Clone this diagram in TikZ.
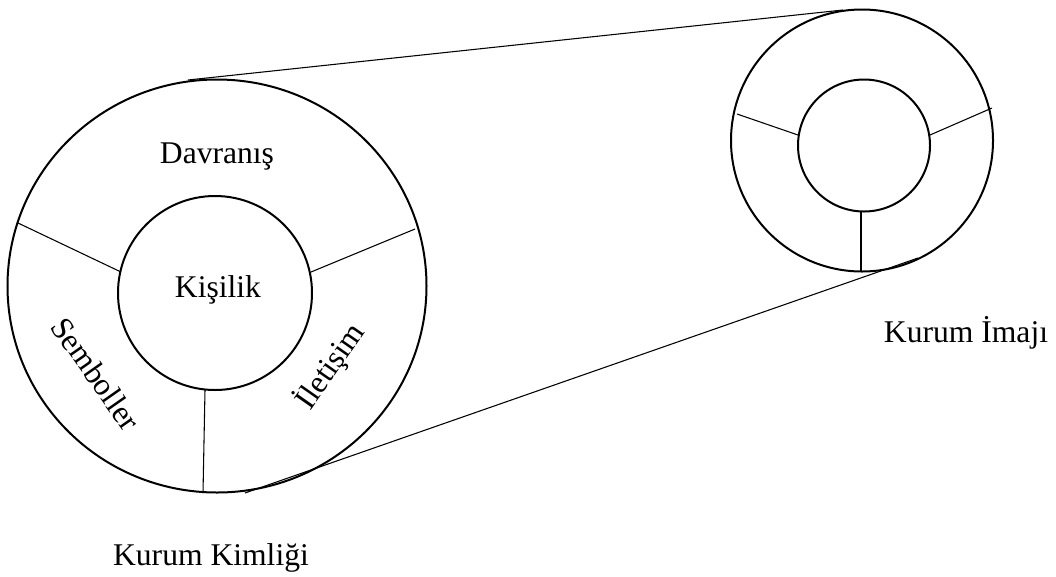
\documentclass[tikz,border=0pt]{standalone}
\usepackage{fontspec}
\setmainfont{Liberation Serif}
\begin{document}
\begin{tikzpicture}[x=0.75pt,y=-0.75pt,
  ring/.style={draw=black,line width=1.5pt},
  divider/.style={draw=black,line width=0.8pt},
  tangent/.style={draw=black,line width=0.8pt},
  lbl/.style={font=\fontsize{23.7}{28}\selectfont,inner sep=0pt}]
\useasboundingbox (0,0) rectangle (1056,576);
% left (Kurum Kimliği)
\coordinate (lc) at (217,286);
\coordinate (ic) at (215,293);
\draw[ring] (lc) ellipse [x radius=209.5, y radius=206.5];
\draw[ring] (ic) circle [radius=97];
\coordinate (l1o) at (18,223);  \coordinate (l1i) at (121,272);
\coordinate (l2o) at (415,229); \coordinate (l2i) at (311,272);
\coordinate (l3o) at (203,493); \coordinate (l3i) at (205,390);
\draw[divider] (l1o) -- (l1i);
\draw[divider] (l2o) -- (l2i);
\draw[divider] (l3o) -- (l3i);
% right (Kurum İmajı)
\coordinate (rc) at (862,140.5);
\coordinate (rci) at (864,145.5);
\draw[ring] (rc) circle [radius=131];
\draw[ring] (rci) circle [radius=66];
\coordinate (r1o) at (737,114); \coordinate (r1i) at (798,135);
\coordinate (r2o) at (992,108); \coordinate (r2i) at (930,135);
\coordinate (r3o) at (861,271); \coordinate (r3i) at (861,211);
\draw[divider] (r1o) -- (r1i);
\draw[divider] (r2o) -- (r2i);
\draw[divider] (r3o) -- (r3i);
% tangents
\coordinate (tA) at (188,80);  \coordinate (tB) at (843,10);
\coordinate (bA) at (245,493); \coordinate (bB) at (918,258);
\draw[tangent] (tA) -- (tB);
\draw[tangent] (bA) -- (bB);
% labels
\node[lbl,anchor=base] (davranis) at (217,163) {Davranış};
\node[lbl,anchor=base] (kisilik) at (218,297) {Kişilik};
\node[lbl,rotate=-55] (semboller) at (96,374) {Semboller};
\node[lbl,rotate=55] (iletisim) at (330,366) {İletişim};
\node[lbl,anchor=base] (imaj) at (966,342) {Kurum İmajı};
\node[lbl,anchor=base] (kimlik) at (211,565) {Kurum Kimliği};
\end{tikzpicture}
\end{document}
